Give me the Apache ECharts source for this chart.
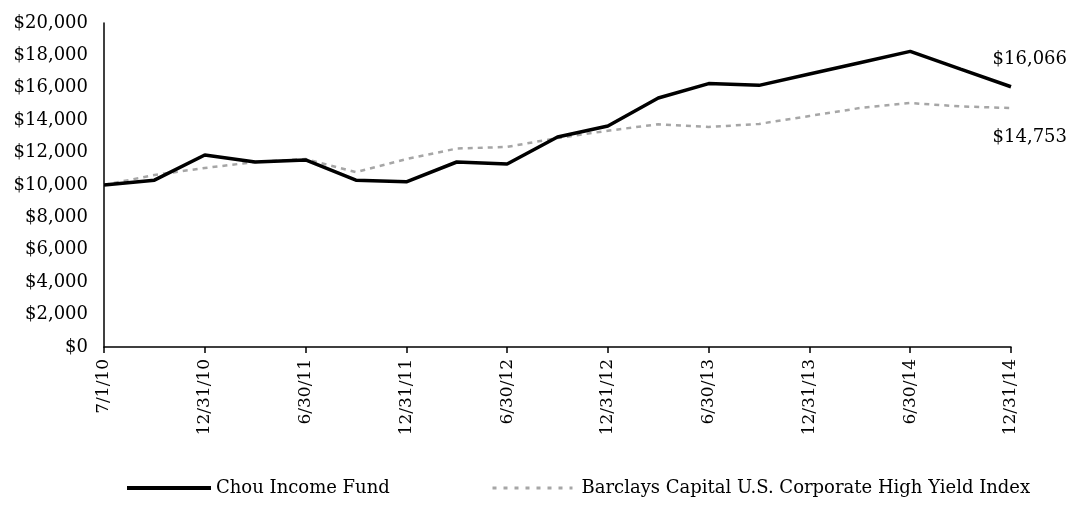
<!DOCTYPE html>
<html>
<head>
<meta charset="utf-8">
<title>Chou Income Fund</title>
<script src="https://cdn.jsdelivr.net/npm/echarts@6/dist/echarts.min.js"></script>
<style>
  html, body { margin: 0; padding: 0; background: #fff; }
  #chart { width: 1069px; height: 509px; }
</style>
</head>
<body>
<div id="chart"></div>
<script>
// quarter ends, labels shown every other one
var dates = ['7/1/10', '9/30/10', '12/31/10', '3/31/11', '6/30/11', '9/30/11', '12/31/11',
  '3/31/12', '6/30/12', '9/30/12', '12/31/12', '3/31/13', '6/30/13', '9/30/13',
  '12/31/13', '3/31/14', '6/30/14', '9/30/14', '12/31/14']

var fundName = 'Chou Income Fund'
var indexName = 'Barclays Capital U.S. Corporate High Yield Index'

var fundValues = [10000, 10300, 11850, 11420, 11550, 10300, 10200, 11420, 11300, 12960,
  13640, 15370, 16260, 16150, 16850, 17550, 18250, 17150, 16066]
var indexValues = [10000, 10620, 11050, 11420, 11600, 10800, 11600, 12250, 12350, 12900,
  13350, 13750, 13580, 13770, 14260, 14750, 15060, 14850, 14753]

var yTicks = { min: 0, max: 20000, step: 2000 }

var font = 'DejaVu Serif'

function money(v) {
  return '$' + Math.round(v).toString().replace(/\B(?=(\d{3})+(?!\d))/g, ',')
}

var chart = echarts.init(document.getElementById('chart'))

chart.setOption({
  animation: false,
  backgroundColor: '#fff',
  textStyle: { fontFamily: font, color: '#000' },
  grid: { // plot area
    left: 104,
    right: 58,
    top: 23,
    bottom: 162
  },
  legend: [{
    data: [fundName],
    left: 120,
    top: 474,
    itemWidth: 84,
    itemHeight: 14,
    itemGap: 0,
    textStyle: { fontFamily: font, fontSize: 18, color: '#000' },
    itemStyle: { opacity: 0 },
    lineStyle: { width: 4, color: '#000' }
  }, {
    data: [indexName],
    left: 486,
    top: 474,
    itemWidth: 80,
    itemHeight: 14,
    itemGap: 0,
    textStyle: { fontFamily: font, fontSize: 18, color: '#000', padding: [0, 0, 0, 4] },
    itemStyle: { opacity: 0 },
    lineStyle: { width: 3, color: '#a6a6a6', type: [4, 7] }
  }],
  xAxis: {
    type: 'category',
    data: dates,
    boundaryGap: false,
    axisLine: { lineStyle: { color: '#000', width: 1.5 } },
    axisTick: {
      show: true,
      interval: 1,
      length: 6,
      lineStyle: { color: '#000', width: 1.5 }
    },
    axisLabel: {
      interval: 1,
      rotate: 90,
      margin: 12,
      fontFamily: font,
      fontSize: 17,
      color: '#000'
    },
    splitLine: { show: false }
  },
  yAxis: {
    type: 'value',
    min: yTicks.min,
    max: yTicks.max,
    interval: yTicks.step,
    axisLine: { show: true, lineStyle: { color: '#000', width: 1.5 } },
    axisTick: { show: false },
    splitLine: { show: false },
    axisLabel: {
      margin: 16,
      fontFamily: font,
      fontSize: 18,
      color: '#000',
      formatter: money
    }
  },
  series: [{
    name: indexName,
    type: 'line',
    data: indexValues,
    symbol: 'none',
    lineStyle: { color: '#a6a6a6', width: 2.5, type: [5, 5] },
    itemStyle: { color: '#a6a6a6' },
    endLabel: {
      show: true,
      distance: 0,
      align: 'right',
      offset: [56, 29],
      fontFamily: font,
      fontSize: 18,
      color: '#000',
      formatter: function(p) { return money(p.value) }
    }
  }, {
    name: fundName,
    type: 'line',
    data: fundValues,
    symbol: 'none',
    lineStyle: { color: '#000', width: 3.5 },
    itemStyle: { color: '#000' },
    endLabel: {
      show: true,
      distance: 0,
      align: 'right',
      offset: [56, -27],
      fontFamily: font,
      fontSize: 18,
      color: '#000',
      formatter: function(p) { return money(p.value) }
    }
  }]
})
</script>
</body>
</html>
